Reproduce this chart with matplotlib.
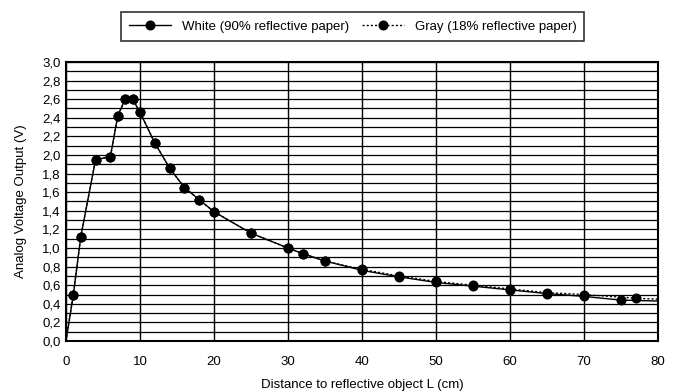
import matplotlib.pyplot as plt
import numpy as np
from matplotlib.ticker import MultipleLocator, FuncFormatter

plt.rcParams['font.family'] = ['Liberation Sans', 'DejaVu Sans']

# distance (cm) and output voltage (V)
white_x = [0, 1, 2, 4, 6, 7, 8, 9, 10, 12, 14, 16, 18, 20, 25, 30, 32, 35, 40, 45, 50, 55, 60, 65, 70, 75, 80]
white_y = [0.0, 0.5, 1.12, 1.95, 1.98, 2.42, 2.60, 2.60, 2.46, 2.13, 1.86, 1.65, 1.52, 1.39, 1.16, 1.00, 0.94, 0.86, 0.76, 0.69, 0.63, 0.59, 0.55, 0.51, 0.48, 0.44, 0.43]
gray_x = [0, 1, 2, 4, 6, 7, 8, 9, 10, 12, 14, 16, 18, 20, 25, 30, 32, 35, 40, 45, 50, 55, 60, 65, 70, 77, 80]
gray_y = [0.0, 0.5, 1.12, 1.95, 1.98, 2.42, 2.60, 2.60, 2.46, 2.13, 1.86, 1.65, 1.52, 1.39, 1.16, 1.00, 0.94, 0.86, 0.77, 0.70, 0.64, 0.60, 0.56, 0.52, 0.50, 0.46, 0.45]

white_label = 'White (90% reflective paper)'
gray_label = 'Gray (18% reflective paper)'

fig = plt.figure(figsize=(6.78, 3.92), dpi=100)
ax = fig.add_axes([0.0973, 0.130, 0.873, 0.712])

marks_w = list(range(1, len(white_x) - 1))
marks_g = list(range(1, len(gray_x) - 1))
ax.plot(white_x, white_y, color='black', lw=1.0, marker='o', ms=6.2,
        markevery=marks_w, label=white_label, zorder=3)
ax.plot(gray_x, gray_y, color='black', lw=1.0, ls=(0, (1.5, 1.5)), marker='o', ms=6.2,
        markevery=marks_g, label=gray_label, zorder=3)

ax.set_xlim(0, 80)
ax.set_ylim(0, 3.0)
ax.xaxis.set_major_locator(MultipleLocator(10))
ax.yaxis.set_major_locator(MultipleLocator(0.2))
ax.yaxis.set_minor_locator(MultipleLocator(0.1))
ax.yaxis.set_major_formatter(FuncFormatter(lambda v, p: f'{v:.1f}'.replace('.', ',')))
ax.grid(True, which='major', axis='x', color='black', lw=1.0)
ax.grid(True, which='both', axis='y', color='black', lw=0.9)
ax.tick_params(which='both', length=0, labelsize=9.5)
ax.tick_params(axis='x', pad=11)
ax.tick_params(axis='y', pad=4)
for s in ax.spines.values():
    s.set_linewidth(1.5)

ax.set_xlabel('Distance to reflective object L (cm)', fontsize=9.5, labelpad=8)
ax.set_ylabel('Analog Voltage Output (V)', fontsize=9.5, labelpad=11)

leg = fig.legend(loc='upper center', bbox_to_anchor=(0.52, 0.985), ncol=2,
                 fontsize=9.5, frameon=True, fancybox=False, handlelength=3.2,
                 columnspacing=1.0, borderpad=0.6)
leg.get_frame().set_edgecolor('black')
leg.get_frame().set_linewidth(1.2)

fig.savefig('out.png', dpi=100)
